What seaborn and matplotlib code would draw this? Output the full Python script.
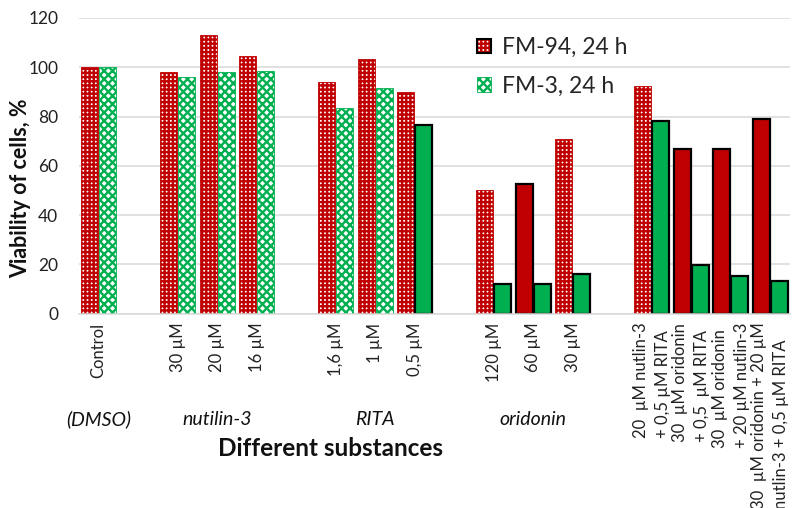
import matplotlib
matplotlib.use("Agg")
import matplotlib.pyplot as plt
import matplotlib.patches as mpatches
import matplotlib.transforms as mtransforms
from matplotlib.legend_handler import HandlerTuple
import pandas as pd
import seaborn as sns

# --- data -------------------------------------------------------------
conditions = ["Control", "30 µM", "20 µM", "16 µM",
              "1,6 µM", "1 µM", "0,5 µM",
              "120 µM", "60 µM", "30 µM",
              "20  µM nutlin-3\n+ 0,5 µM RITA",
              "30  µM oridonin\n+ 0,5  µM RITA",
              "30  µM oridonin\n+ 20 µM nutlin-3",
              "30  µM oridonin + 20 µM\nnutlin-3 + 0,5 µM RITA"]
groups = ["(DMSO)", "nutilin-3", "nutilin-3", "nutilin-3",
          "RITA", "RITA", "RITA",
          "oridonin", "oridonin", "oridonin",
          "combination", "combination", "combination", "combination"]
group_titles = ["(DMSO)", "nutilin-3", "RITA", "oridonin"]
series = ["FM-94, 24 h", "FM-3, 24 h"]
fm94 = [100, 98, 113, 104.5, 94, 103.5, 90, 50, 52.5, 71, 92.5, 67, 67, 79]
fm3 = [100, 96, 98, 98.5, 83.5, 91.5, 76.5, 12, 12.2, 16.3, 78, 19.7, 15.3, 13.3]

# bars drawn as solid fill with black outline (others are patterned)
fm94_solid = [False, False, False, False, False, False, False,
              False, True, False, False, True, True, True]
fm3_solid = [False, False, False, False, False, False, True,
             True, True, True, True, True, True, True]

RED = "#C00000"
GREEN = "#00B050"
GRID = "#D9D9D9"

# --- style ------------------------------------------------------------
sns.set_theme(style="white")
plt.rcParams["font.family"] = ["Lato", "DejaVu Sans"]
plt.rcParams["hatch.linewidth"] = 1.7

# slot positions: one empty slot between substance groups
slots = []
pos = 0
prev = None
for g in groups:
    if prev is not None and g != prev:
        pos += 1
    slots.append(pos)
    pos += 1
    prev = g
n_slots = pos

df = pd.DataFrame({
    "slot": slots * 2,
    "viability": fm94 + fm3,
    "line": [series[0]] * len(fm94) + [series[1]] * len(fm3),
})

fig = plt.figure(figsize=(7.92, 5.08), dpi=100)
ax = fig.add_axes([79 / 792, 194.3 / 508, 711 / 792, 295.7 / 508])

sns.barplot(data=df, x="slot", y="viability", hue="line",
            order=list(range(n_slots)), hue_order=series,
            palette=[RED, GREEN], width=0.9, gap=0.05,
            errorbar=None, saturation=1, legend=False, ax=ax)

solid_lookup = {}
for s, a, b in zip(slots, fm94_solid, fm3_solid):
    solid_lookup[(s, 0)] = a
    solid_lookup[(s, 1)] = b

RED_HATCH = "++++"
GREEN_HATCH = "xxxx"

for p in ax.patches:
    cx = p.get_x() + p.get_width() / 2
    s = int(round(cx))
    h = 0 if cx < s else 1
    color = RED if h == 0 else GREEN
    if solid_lookup.get((s, h), False):
        p.set_facecolor(color)
        p.set_edgecolor("black")
        p.set_linewidth(1.6)
        p.set_hatch(None)
    else:
        p.set_facecolor("white")
        p.set_edgecolor(color)
        p.set_linewidth(0.6)
        p.set_hatch(RED_HATCH if h == 0 else GREEN_HATCH)

# --- axes -------------------------------------------------------------
ax.set_ylim(0, 120)
ax.set_yticks(range(0, 121, 20))
ax.set_xlim(-0.5, n_slots - 0.5)
ax.yaxis.grid(True, color=GRID, linewidth=1.1)
ax.set_axisbelow(True)
for side in ["top", "right", "left"]:
    ax.spines[side].set_visible(False)
ax.spines["bottom"].set_color(GRID)
ax.spines["bottom"].set_linewidth(1.1)
ax.tick_params(axis="both", length=0)
ax.tick_params(axis="y", pad=15, labelsize=12.5, labelcolor="#222222")
ax.tick_params(axis="x", pad=6.5, labelsize=12, labelcolor="#222222")

slot_labels = [""] * n_slots
for s, c in zip(slots, conditions):
    slot_labels[s] = c
ax.set_xticks(range(n_slots))
ax.set_xticklabels(slot_labels, rotation=90, va="top", ha="center",
                   multialignment="left", linespacing=1.45)
ax.set_xlabel("")
ax.set_ylabel("")

# group captions under the tick labels
trans = mtransforms.blended_transform_factory(ax.transData, fig.transFigure)
for title in group_titles:
    members = [s for s, g in zip(slots, groups) if g == title]
    xc = sum(members) / len(members)
    ax.text(xc, 1 - 425 / 508, title, transform=trans, ha="center",
            va="baseline", fontsize=14, style="italic", color="#111111")

fig.text(330 / 792, 1 - 448 / 508, "Different substances", ha="center",
         va="center", fontsize=17.5, fontweight="bold", color="#111111")
fig.text(21 / 792, 1 - 188 / 508, "Viability of cells, %", ha="center",
         va="center", rotation=90, fontsize=15.5, fontweight="bold",
         color="#111111")

# --- legend -----------------------------------------------------------
h94 = (mpatches.Patch(facecolor="white", edgecolor=RED, hatch=RED_HATCH,
                      linewidth=0.6),
       mpatches.Patch(facecolor="none", edgecolor="black", linewidth=1.5))
h3 = mpatches.Patch(facecolor="white", edgecolor=GREEN, hatch=GREEN_HATCH,
                    linewidth=0.6)
ax.legend([h94, h3], series, handler_map={tuple: HandlerTuple(ndivide=1)},
          loc="upper left", bbox_to_anchor=(477 / 792, 1 - 37 / 508),
          bbox_transform=fig.transFigure, frameon=False, fontsize=16.5,
          labelspacing=0.78, handlelength=0.62, handleheight=0.62,
          handletextpad=0.45, borderpad=0, borderaxespad=0)

fig.savefig("out.png", dpi=100)
